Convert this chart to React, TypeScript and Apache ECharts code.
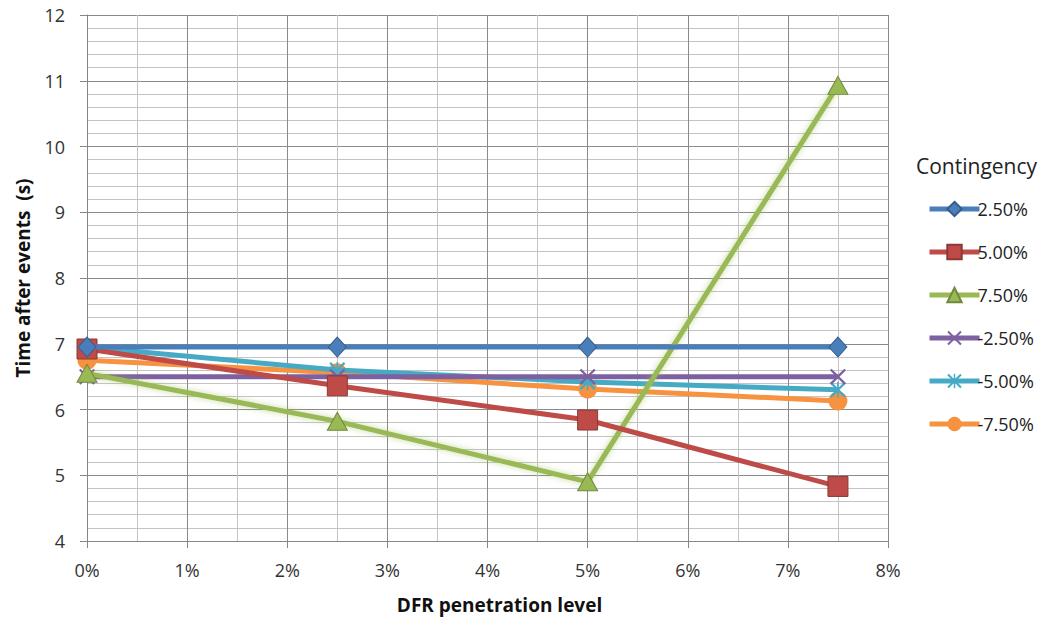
import React, { useEffect, useRef } from "react";
import * as echarts from "echarts";

const xValues = [0, 2.5, 5, 7.5];
const seriesNames = ["2.50%", "5.00%", "7.50%", "-2.50%", "-5.00%", "-7.50%"];
const s25 = [6.95, 6.95, 6.95, 6.95];
const s50 = [6.92, 6.36, 5.84, 4.83];
const s75 = [6.55, 5.82, 4.9, 10.93];
const sm25 = [6.5, 6.5, 6.5, 6.5];
const sm50 = [6.95, 6.6, 6.42, 6.3];
const sm75 = [6.75, 6.56, 6.31, 6.13];
const xTicks = { min: 0, max: 8, interval: 1 };
const yTicks = { min: 4, max: 12, interval: 1 };

const FONT = "'Open Sans', Lato, sans-serif";
const X_SYMBOL = "path://M0,1 L1,0 L5,4 L9,0 L10,1 L6,5 L10,9 L9,10 L5,6 L1,10 L0,9 L4,5 Z";
const STAR_SYMBOL =
  "path://M0,1 L1,0 L5,4 L9,0 L10,1 L6,5 L10,9 L9,10 L5,6 L1,10 L0,9 L4,5 Z M4.5,0 L5.5,0 L5.5,10 L4.5,10 Z";

export default function App() {
  const ref = useRef<HTMLDivElement>(null);
  useEffect(() => {
    const chart = echarts.init(ref.current!, undefined, { renderer: "svg" });
    const allData = [s25, s50, s75, sm25, sm50, sm75];
    const colors = ["#4A7EBB", "#BE4B48", "#98B954", "#7D60A0", "#46AAC5", "#F69240"];
    const borders = ["#385D8A", "#8C3836", "#71893F", "#5C4776", "#357D91", "#F69240"];
    const symbols = ["diamond", "rect", "triangle", X_SYMBOL, STAR_SYMBOL, "circle"];
    const sizes = [[18, 20], 20, [20, 18], 16, 16, 19];
    const series = allData.map((d, i) => ({
      name: seriesNames[i],
      type: "line",
      data: d.map((v, j) => [xValues[j], v]),
      symbol: symbols[i],
      symbolSize: sizes[i] as any,
      lineStyle: {
        width: 5,
        color: colors[i],
        ...(i === 2 ? { shadowColor: "rgba(155,187,89,0.55)", shadowBlur: 6 } : {}),
      },
      itemStyle: {
        color: colors[i],
        borderColor: i >= 3 ? colors[i] : borders[i],
        borderWidth: i >= 3 ? 0 : 1,
      },
      z: 10 - i,
    }));
    chart.setOption({
      animation: false,
      title: {
        text: "Contingency",
        left: 911,
        top: 150,
        textStyle: { fontFamily: FONT, fontSize: 21, fontWeight: "normal", color: "#222" },
      },
      legend: {
        orient: "vertical",
        left: 922,
        top: 195,
        itemWidth: 50,
        itemHeight: 18,
        itemGap: 25,
        data: seriesNames,
        lineStyle: { width: 5 },
        textStyle: { fontFamily: FONT, fontSize: 18, color: "#222", padding: [0, 0, 0, -7] },
      },
      grid: { left: 87, right: 163, top: 15, bottom: 80 },
      xAxis: {
        type: "value",
        min: xTicks.min,
        max: xTicks.max,
        interval: xTicks.interval,
        name: "DFR penetration level",
        nameLocation: "middle",
        nameGap: 54,
        nameTextStyle: { fontFamily: FONT, fontSize: 19, fontWeight: "bold", color: "#111", padding: [0, 0, 0, 24] },
        axisLine: { show: true, lineStyle: { color: "#868686", width: 1 } },
        axisTick: { show: true, length: 7, lineStyle: { color: "#868686" } },
        axisLabel: { formatter: "{value}%", fontFamily: FONT, fontSize: 18, color: "#333", margin: 20 },
        splitLine: { show: true, lineStyle: { color: "#8a8a8a", width: 1 } },
        minorTick: { show: false, splitNumber: 2 },
        minorSplitLine: { show: true, lineStyle: { color: "#c4c4c4", width: 1 } },
      },
      yAxis: {
        type: "value",
        min: yTicks.min,
        max: yTicks.max,
        interval: yTicks.interval,
        name: "Time after events  (s)",
        nameLocation: "middle",
        nameGap: 55,
        nameTextStyle: { fontFamily: FONT, fontSize: 19, fontWeight: "bold", color: "#111" },
        axisLine: { show: true, lineStyle: { color: "#868686", width: 1 } },
        axisTick: { show: true, length: 7, lineStyle: { color: "#868686" } },
        axisLabel: { fontFamily: FONT, fontSize: 18, color: "#333", margin: 22 },
        splitLine: { show: true, lineStyle: { color: "#8a8a8a", width: 1 } },
        minorTick: { show: false, splitNumber: 5 },
        minorSplitLine: { show: true, lineStyle: { color: "#c4c4c4", width: 1 } },
      },
      series,
    });
    return () => chart.dispose();
  }, []);
  return <div ref={ref} style={{ width: 1051, height: 621, position: "absolute", left: 0, top: 0, background: "#fff" }} />;
}
